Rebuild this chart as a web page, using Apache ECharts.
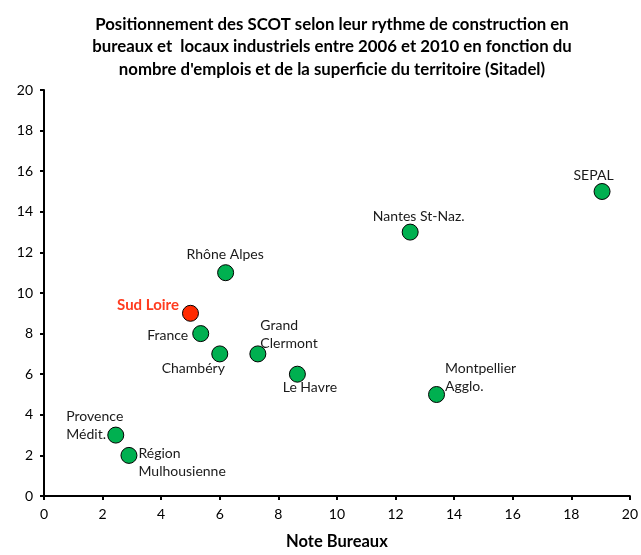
<!DOCTYPE html>
<html>
<head>
<meta charset="utf-8">
<script src="https://cdn.jsdelivr.net/npm/echarts@6/dist/echarts.min.js"></script>
<style>html,body{margin:0;padding:0;background:#fff}#c{width:641px;height:555px}</style>
</head>
<body>
<div id="c"></div>
<script>
// ---- data ----
const names = ['Provence\nMédit.', 'Région\nMulhousienne', 'Sud Loire', 'France', 'Chambéry', 'Rhône Alpes', 'Grand\nClermont', 'Le Havre', 'Nantes St-Naz.', 'Montpellier\nAgglo.', 'SEPAL'];
const noteBureaux = [2.45, 2.9, 5.0, 5.35, 6.0, 6.2, 7.3, 8.65, 12.5, 13.4, 19.05];
const noteLocaux = [3, 2, 9, 8, 7, 11, 7, 6, 13, 5, 15];
const highlightName = 'Sud Loire';
const xTicks = [0, 2, 4, 6, 8, 10, 12, 14, 16, 18, 20];
const yTicks = [0, 2, 4, 6, 8, 10, 12, 14, 16, 18, 20];

// ---- label layout (style only): anchor offset from the marker centre ----
const labelLayout = {
  'Provence\nMédit.': {align: 'left', va: 'top', off: [-49, -27]},
  'Région\nMulhousienne': {align: 'left', va: 'top', off: [10, -10]},
  'Sud Loire': {align: 'right', va: 'middle', off: [-11, -8]},
  'France': {align: 'right', va: 'middle', off: [-12, 2]},
  'Chambéry': {align: 'center', va: 'middle', off: [-26, 15]},
  'Rhône Alpes': {align: 'center', va: 'middle', off: [0, -18]},
  'Grand\nClermont': {align: 'left', va: 'top', off: [3, -37]},
  'Le Havre': {align: 'center', va: 'middle', off: [13, 14]},
  'Nantes St-Naz.': {align: 'center', va: 'middle', off: [9, -15]},
  'Montpellier\nAgglo.': {align: 'left', va: 'top', off: [9, -35]},
  'SEPAL': {align: 'center', va: 'middle', off: [-8, -16]}
};

const SYM = 16;
const FONT = 'Lato, "Open Sans", sans-serif';
const data = names.map((n, i) => {
  const L = labelLayout[n];
  const hi = n === highlightName;
  return {
    name: n,
    value: [noteBureaux[i], noteLocaux[i]],
    itemStyle: {color: hi ? '#FF2A00' : '#00B050'},
    label: {
      show: true,
      formatter: n,
      position: [L.off[0] + SYM / 2, L.off[1] + SYM / 2],
      align: L.align,
      verticalAlign: L.va,
      color: hi ? '#FF3B1F' : '#1a1a1a',
      fontWeight: hi ? 'bold' : 'normal',
      fontSize: hi ? 15 : 14,
      lineHeight: 18,
      fontFamily: FONT
    }
  };
});

const chart = echarts.init(document.getElementById('c'), null, {renderer: 'canvas'});
chart.setOption({
  animation: false,
  backgroundColor: '#fff',
  title: {
    text: 'Positionnement des SCOT selon leur rythme de construction en\nbureaux et  locaux industriels entre 2006 et 2010 en fonction du\nnombre d\'emplois et de la superficie du territoire (Sitadel)',
    left: 327,
    top: 8,
    textAlign: 'center',
    textStyle: {fontFamily: FONT, fontWeight: 'bold', fontSize: 16.8, lineHeight: 22.5, color: '#000'}
  },
  grid: {left: 44, right: 7, top: 90, bottom: 53, containLabel: false},
  xAxis: {
    type: 'value', min: xTicks[0], max: xTicks[xTicks.length - 1], interval: xTicks[1] - xTicks[0],
    name: 'Note Bureaux', nameLocation: 'middle', nameGap: 37,
    nameTextStyle: {fontFamily: FONT, fontWeight: 'bold', fontSize: 16.5, color: '#000'},
    axisLine: {show: true, onZero: false, lineStyle: {color: '#000', width: 2}},
    axisTick: {show: true, inside: false, length: 4, lineStyle: {color: '#000', width: 2}},
    axisLabel: {margin: 11, fontFamily: FONT, fontSize: 14, color: '#000'},
    splitLine: {show: false}
  },
  yAxis: {
    type: 'value', min: yTicks[0], max: yTicks[yTicks.length - 1], interval: yTicks[1] - yTicks[0],
    axisLine: {show: true, onZero: false, lineStyle: {color: '#000', width: 2}},
    axisTick: {show: true, inside: false, length: 4, lineStyle: {color: '#000', width: 2}},
    axisLabel: {margin: 11, fontFamily: FONT, fontSize: 14, color: '#000'},
    splitLine: {show: false}
  },
  series: [{
    type: 'scatter',
    symbol: 'circle',
    symbolSize: SYM,
    itemStyle: {borderColor: '#000', borderWidth: 1, opacity: 1},
    emphasis: {disabled: true},
    labelLayout: {hideOverlap: false},
    data: data
  }]
});
</script>
</body>
</html>
